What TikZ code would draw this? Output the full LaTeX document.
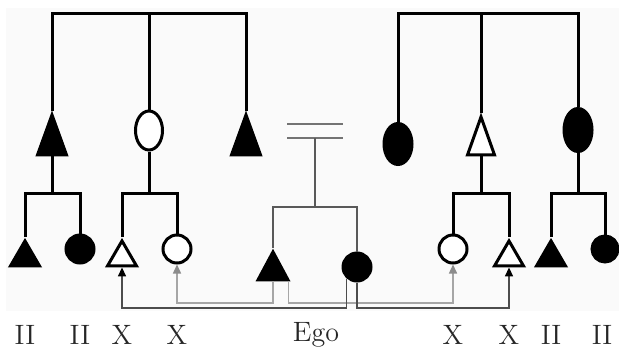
\documentclass[tikz,border=0pt]{standalone}
\usetikzlibrary{shapes.geometric,arrows.meta}
\begin{document}
\begin{tikzpicture}[x=.5pt,y=-.5pt,line join=miter,
 kin/.style={line width=1.5pt},
 ego/.style={line width=1pt,black!65},
 man/.style 2 args={draw,line width=1.5pt,isosceles triangle,shape border rotate=90,
  isosceles triangle stretches,inner sep=0pt,anchor=apex,
  minimum width=#1,minimum height=#2},
 woman/.style 2 args={draw,line width=1.5pt,ellipse,inner sep=0pt,
  minimum width=#1,minimum height=#2},
 lbl/.style={text=black!85,font=\fontsize{14}{16}\selectfont}]
 \useasboundingbox (0,0) rectangle (619,348);
 \fill[black!2] (6,8) rectangle (619,311);
 % left kin group
 \node[man={14.5pt}{20pt},fill=black] (A1) at (52,111) {};
 \node[woman={13.5pt}{19.5pt},fill=white] (A2) at (149,130.5) {};
 \node[man={14.5pt}{20pt},fill=black] (A3) at (246,111) {};
 \node[man={14.5pt}{12.5pt},fill=black] (a1) at (25,237) {};
 \node[woman={14pt}{14pt},fill=black] (a2) at (80,249) {};
 \node[man={14.5pt}{12.5pt},fill=white] (b1) at (122,237) {};
 \node[woman={14pt}{14pt},fill=white] (b2) at (177,249) {};
 % ego and sibling
 \node[man={15pt}{14pt},fill=black] (e1) at (273,248) {};
 \node[woman={14pt}{14pt},fill=black] (e2) at (357,267) {};
 % right kin group
 \node[woman={14pt}{20.5pt},fill=black] (C1) at (398,144) {};
 \node[man={13.5pt}{19pt},fill=white] (C2) at (481,113) {};
 \node[woman={14pt}{21.5pt},fill=black] (C3) at (578,130) {};
 \node[woman={14pt}{14pt},fill=white] (c1) at (453,249) {};
 \node[man={14.5pt}{12.5pt},fill=white] (c2) at (509,237) {};
 \node[man={14.5pt}{12.5pt},fill=black] (d1) at (551,237) {};
 \node[woman={13pt}{13pt},fill=black] (d2) at (605,249) {};
 \path
 (149,13) coordinate (topL)
 (481,13) coordinate (topR)
 (52,193) coordinate (sibA)
 (149,193) coordinate (sibB)
 (481,193) coordinate (sibC)
 (578,193) coordinate (sibD)
 (315,138) coordinate (eq)
 (315,207) coordinate (sibE)
 (0,303) coordinate (railL)
 (0,308) coordinate (railD);
 \draw[kin]
 (A1.apex) |- (topL) -| (A3.apex) (topL) -- (A2.north)
 (C1.north) |- (topR) -| (C3.north) (topR) -- (C2.apex)
 (A1.lower side) -- (sibA) (a1.apex) |- (sibA) -| (a2.north)
 (A2.south) -- (sibB) (b1.apex) |- (sibB) -| (b2.north)
 (C2.lower side) -- (sibC) (c1.north) |- (sibC) -| (c2.apex)
 (C3.south) -- (sibD) (d1.apex) |- (sibD) -| (d2.north);
 \draw[black!55,line width=.8pt]
 ([xshift=-14pt]eq) -- ([xshift=14pt]eq)
 ([xshift=-14pt,yshift=7pt]eq) -- ([xshift=14pt,yshift=7pt]eq);
 \draw[ego] (eq) -- (sibE) (e1.apex) |- (sibE) -| (e2.north);
 \begin{scope}[line width=.75pt]
 \draw[black!35,-{Triangle[length=4.5pt,width=4pt,black!45]}]
 (e1.lower side) -- (e1.lower side |- railL) -| (b2.south);
 \draw[black!35,-{Triangle[length=4.5pt,width=4pt,black!45]}]
 ([xshift=-1pt]e1.right corner) -- ([xshift=-1pt]e1.right corner |- railL) -| (c1.south);
 \draw[black!70,-{Triangle[length=4.5pt,width=4pt,black]}]
 (e2.-132) -- (e2.-132 |- railD) -| (b1.lower side);
 \draw[black!70,-{Triangle[length=4.5pt,width=4pt,black]}]
 (e2.south) -- (e2.south |- railD) -| (c2.lower side);
 \end{scope}
 \path[lbl]
 (25,335) node (l1) {II}
 ++(55,0) node (l2) {II}
 ++(42,0) node (l3) {X}
 ++(55,0) node (l4) {X}
 ++(139,0) node (l5) {Ego}
 ++(137,0) node (l6) {X}
 ++(56,0) node (l7) {X}
 ++(42,0) node (l8) {II}
 ++(51,0) node (l9) {II};
\end{tikzpicture}
\end{document}
